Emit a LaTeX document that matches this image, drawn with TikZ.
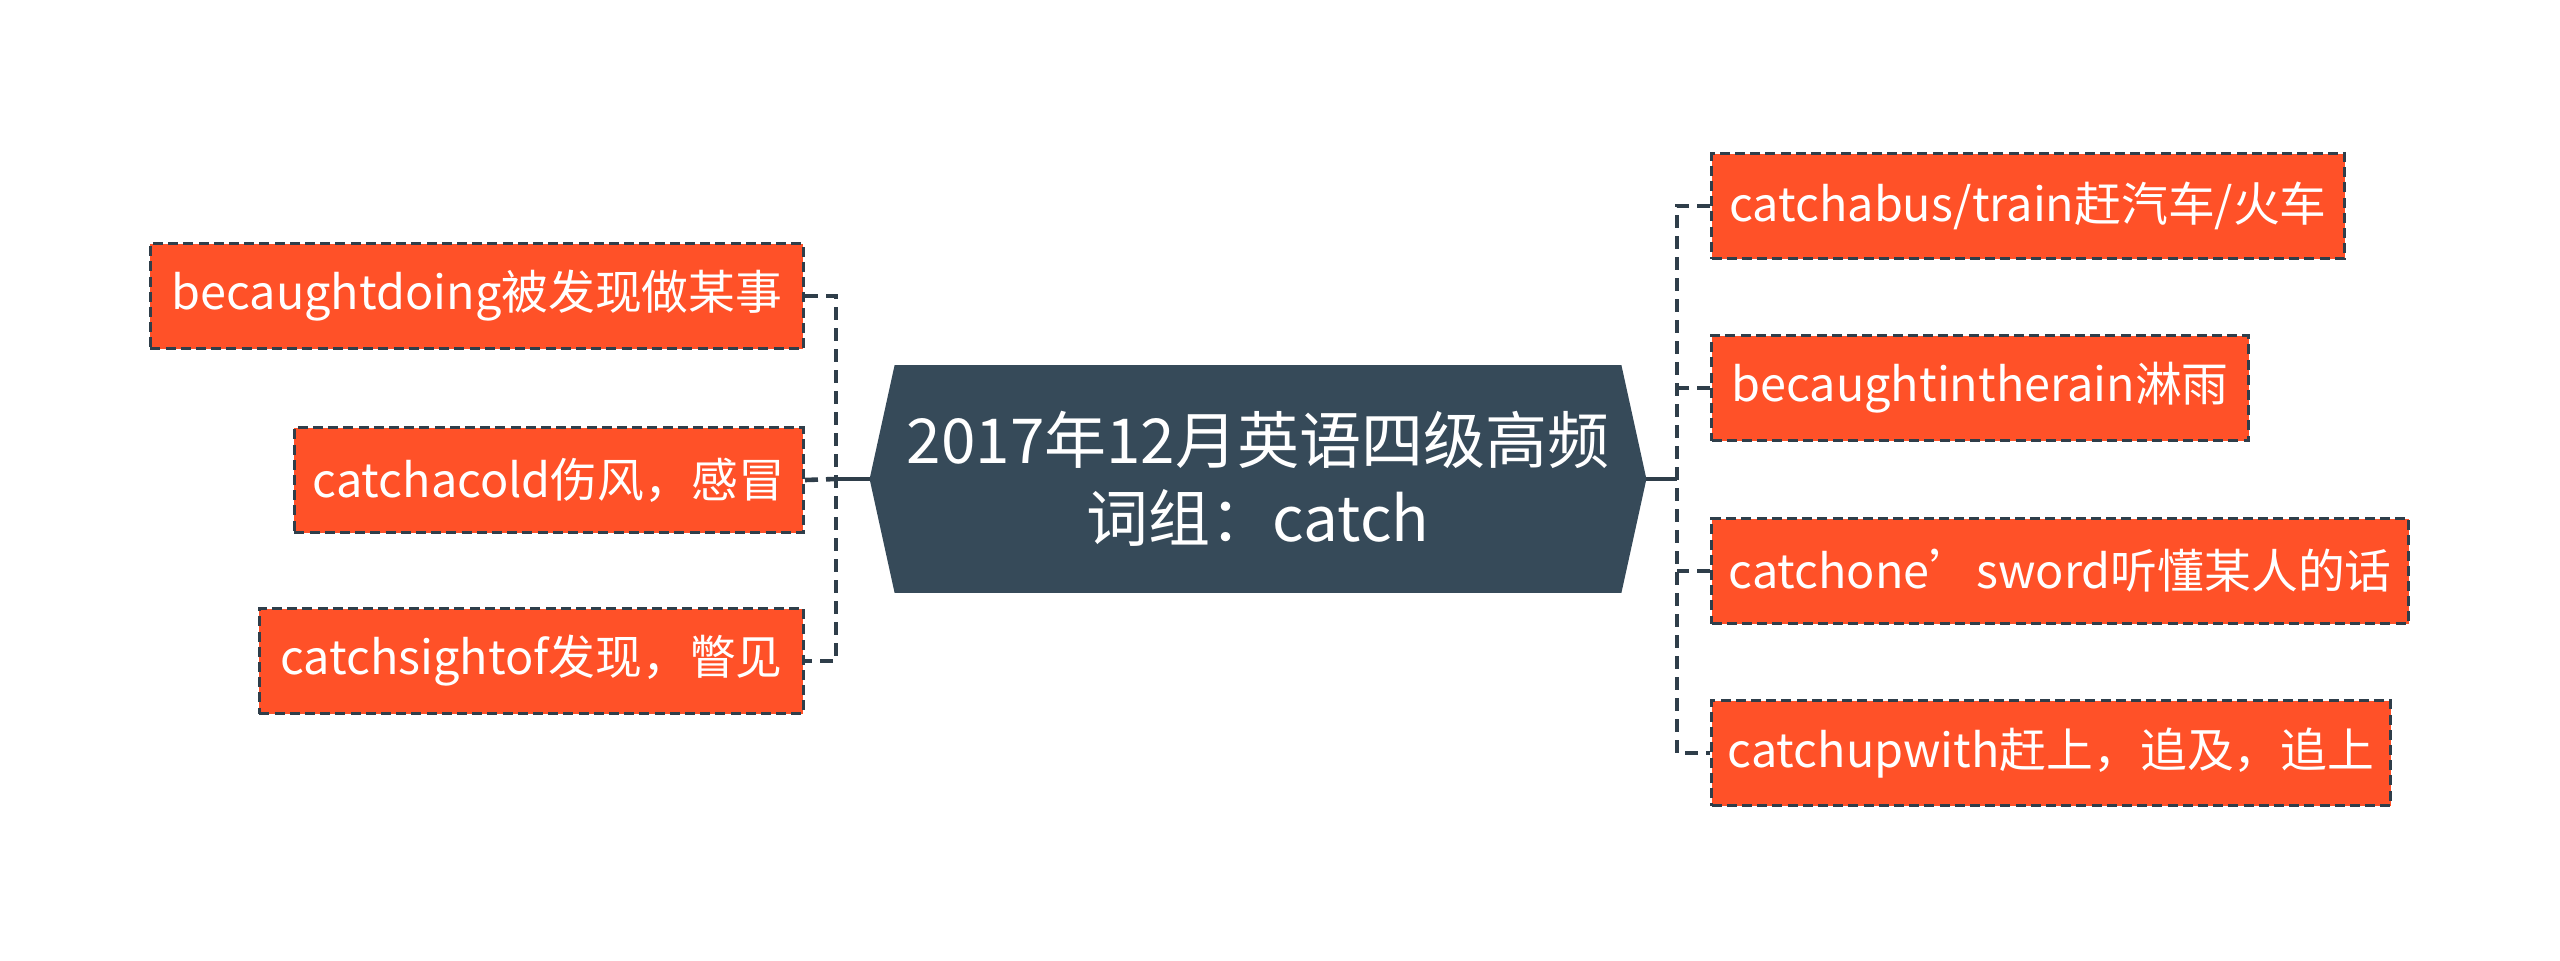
\documentclass[tikz,border=0pt]{standalone}
\usepackage{fontspec}
\setmainfont{Noto Sans CJK SC}
\usetikzlibrary{backgrounds}
\definecolor{boxfill}{HTML}{FF5128}
\definecolor{darkline}{HTML}{2F3E4A}
\definecolor{centerfill}{HTML}{364A59}
\tikzset{
  leaf/.style={rectangle, fill=boxfill, draw=darkline, line width=1.6pt,
    dash pattern=on 5pt off 2.6pt, text=white, font=\fontsize{23.4pt}{27pt}\selectfont,
    minimum height=52.5pt, inner sep=0pt},
  conn/.style={draw=darkline, line width=2.3pt, dash pattern=on 6.5pt off 4pt},
  solidconn/.style={draw=darkline, line width=2.3pt},
  hub/.style={rectangle, text=white, align=center, minimum width=388pt,
    minimum height=113.5pt, inner sep=0pt,
    font=\fontsize{31pt}{39pt}\selectfont}
}
\begin{document}
\begin{tikzpicture}[x=0.5pt,y=-0.5pt]
\useasboundingbox (0,0) rectangle (2560,960);
% central node
\node[hub] (c) at (1258,479) {2017年12月英语四级高频\\词组：catch};
\begin{scope}[on background layer]
\fill[centerfill] (c.west) -- ([xshift=12.5pt]c.north west) -- ([xshift=-12.5pt]c.north east)
  -- (c.east) -- ([xshift=-12.5pt]c.south east) -- ([xshift=12.5pt]c.south west) -- cycle;
\end{scope}
% left leaves
\node[leaf, anchor=east, minimum width=326.5pt] (l1) at (805,296) {becaughtdoing被发现做某事};
\node[leaf, anchor=east, minimum width=254.5pt] (l2) at (805,480) {catchacold伤风，感冒};
\node[leaf, anchor=east, minimum width=272pt] (l3) at (805,661) {catchsightof发现，瞥见};
% right leaves
\node[leaf, anchor=west, minimum width=316.5pt] (r1) at (1710,206) {catchabus/train赶汽车/火车};
\node[leaf, anchor=west, minimum width=268.5pt] (r2) at (1710,388) {becaughtintherain淋雨};
\node[leaf, anchor=west, minimum width=348.5pt] (r3) at (1710,571) {catchone’sword听懂某人的话};
\node[leaf, anchor=west, minimum width=339.5pt] (r4) at (1710,753) {catchupwith赶上，追及，追上};
% junctions
\coordinate (L) at (836,479);
\coordinate (R) at (1677,479);
% connectors
\draw[solidconn] (c.west) -- (L);
\draw[solidconn] (c.east) -- (R);
\draw[conn] (l1.east) -- (l1.east -| L) -- (l3.east -| L) -- (l3.east);
\draw[conn] (l2.east) -- (L);
\draw[conn] (r1.west) -- (r1.west -| R) -- (r4.west -| R) -- (r4.west);
\draw[conn] (r2.west) -- (r2.west -| R);
\draw[conn] (r3.west) -- (r3.west -| R);
\end{tikzpicture}
\end{document}
